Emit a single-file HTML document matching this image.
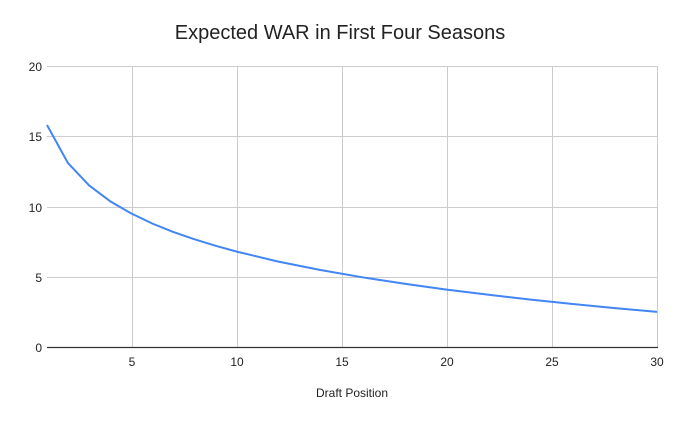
<!DOCTYPE html>
<html><head><meta charset="utf-8"><style>
html,body{margin:0;padding:0;background:#fff}
svg{display:block}
text{font-family:"Liberation Sans",Arial,sans-serif;fill:#222}
</style></head><body>
<svg width="680" height="421" viewBox="0 0 680 421" xmlns="http://www.w3.org/2000/svg">
<rect width="680" height="421" fill="#fff"/>
<text x="340" y="39" font-size="20" text-anchor="middle">Expected WAR in First Four Seasons</text>
<g stroke="#ccc" stroke-width="1">
<line x1="47" y1="66.5" x2="658" y2="66.5"/>
<line x1="47" y1="136.5" x2="658" y2="136.5"/>
<line x1="47" y1="207.5" x2="658" y2="207.5"/>
<line x1="47" y1="277.5" x2="658" y2="277.5"/>
<line x1="132.5" y1="66" x2="132.5" y2="347"/>
<line x1="237.5" y1="66" x2="237.5" y2="347"/>
<line x1="342.5" y1="66" x2="342.5" y2="347"/>
<line x1="447.5" y1="66" x2="447.5" y2="347"/>
<line x1="552.5" y1="66" x2="552.5" y2="347"/>
<line x1="657.5" y1="66" x2="657.5" y2="347"/>
</g>
<line x1="47" y1="347.5" x2="658" y2="347.5" stroke="#333" stroke-width="1.3"/>
<g font-size="12" text-anchor="end">
<text x="42" y="71">20</text>
<text x="42" y="141">15</text>
<text x="42" y="212">10</text>
<text x="42" y="282">5</text>
<text x="42" y="352">0</text>
</g>
<g font-size="12" text-anchor="middle">
<text x="132" y="366">5</text>
<text x="237" y="366">10</text>
<text x="342" y="366">15</text>
<text x="447" y="366">20</text>
<text x="552" y="366">25</text>
<text x="657" y="366">30</text>
</g>
<text x="352" y="397" font-size="12" text-anchor="middle">Draft Position</text>
<polyline fill="none" stroke="#4285f4" stroke-width="2" stroke-linejoin="round"
points="47,125 68,163.1 89.1,185.4 110.1,201.2 131.1,213.4 152.2,223.5 173.2,231.9 194.2,239.2 215.3,245.7 236.3,251.5 278.4,261.6 320.4,270 362.5,277.3 404.6,283.8 446.6,289.6 488.7,294.8 530.8,299.6 572.8,304 614.9,308.1 657,311.9"/>
</svg>
</body></html>
